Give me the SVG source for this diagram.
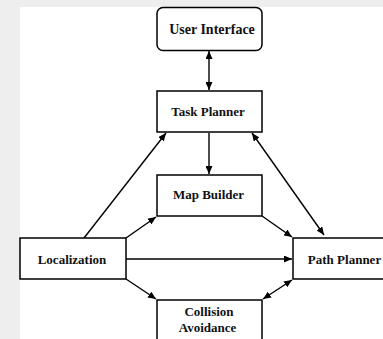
<svg xmlns="http://www.w3.org/2000/svg" width="383" height="339" viewBox="0 0 383 339">
  <style>
    .box { fill: #ffffff; stroke: #000000; stroke-width: 1.5; }
    .lbl { font-family: "Liberation Serif", "Times New Roman", serif; font-weight: bold; font-size: 13px; fill: #111111; text-anchor: middle; }
    .wire { stroke: #000000; stroke-width: 1.4; fill: none; marker-end: url(#head); }
    .both { marker-start: url(#tail); }
  </style>
  <defs>
    <marker id="head" viewBox="0 0 8 7" refX="8" refY="3.5" markerWidth="8" markerHeight="7" markerUnits="userSpaceOnUse" orient="auto">
      <path d="M0,0 L8,3.5 L0,7 Z" fill="#000"/>
    </marker>
    <marker id="tail" viewBox="0 0 8 7" refX="0" refY="3.5" markerWidth="8" markerHeight="7" markerUnits="userSpaceOnUse" orient="auto">
      <path d="M8,0 L0,3.5 L8,7 Z" fill="#000"/>
    </marker>
  </defs>

  <!-- page background -->
  <rect x="0" y="0" width="383" height="339" fill="#eeeeee"/>
  <rect x="20" y="7" width="363" height="332" fill="#ffffff"/>

  <g id="connectors">
    <line class="wire both" x1="209" y1="51" x2="209" y2="90"/>
    <line class="wire" x1="209" y1="133" x2="209" y2="174"/>
    <line class="wire" x1="84" y1="238" x2="166" y2="133"/>
    <line class="wire" x1="126" y1="238" x2="156" y2="217"/>
    <line class="wire" x1="126" y1="259" x2="292" y2="259"/>
    <line class="wire" x1="126" y1="279" x2="156" y2="299"/>
    <line class="wire" x1="262" y1="216" x2="292" y2="237"/>
    <line class="wire both" x1="252" y1="133" x2="324" y2="235"/>
    <line class="wire both" x1="292" y1="280" x2="263" y2="299"/>
  </g>

  <g id="user-interface">
    <rect class="box" x="157" y="7.5" width="105" height="43" rx="6"/>
    <text class="lbl" x="212" y="34" style="font-size:14px">User Interface</text>
  </g>
  <g id="task-planner">
    <rect class="box" x="157" y="91" width="105" height="41"/>
    <text class="lbl" x="208" y="115.5">Task Planner</text>
  </g>
  <g id="map-builder">
    <rect class="box" x="157" y="175" width="105" height="41"/>
    <text class="lbl" x="208.5" y="199">Map Builder</text>
  </g>
  <g id="localization">
    <rect class="box" x="20" y="238" width="106" height="41"/>
    <text class="lbl" x="72" y="263.5">Localization</text>
  </g>
  <g id="path-planner">
    <rect class="box" x="293" y="238" width="95" height="41"/>
    <text class="lbl" x="344.5" y="263.5">Path Planner</text>
  </g>
  <g id="collision-avoidance">
    <rect class="box" x="157" y="300" width="105" height="45"/>
    <text class="lbl" x="209" y="316">Collision</text>
    <text class="lbl" x="207.5" y="332">Avoidance</text>
  </g>
</svg>
